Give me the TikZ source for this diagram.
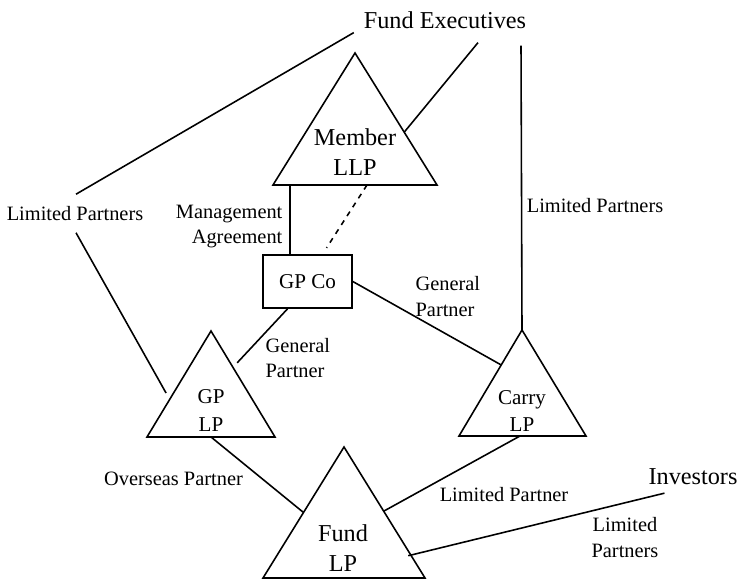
\documentclass[tikz,border=0pt]{standalone}
\usepackage{fontspec}
\setmainfont{Liberation Serif}
\usetikzlibrary{calc}

\begin{document}
\begin{tikzpicture}[x=1cm, y=1cm,
    lbl/.style={font=\fontsize{11.6}{14.5}\selectfont, inner sep=1pt, align=center},
    mid/.style={font=\fontsize{12}{15.4}\selectfont, inner sep=1pt, align=center},
    big/.style={font=\fontsize{13.8}{17}\selectfont, inner sep=1pt, align=center},
    tri/.style={line width=0.9pt, line join=miter},
    link/.style={line width=0.9pt}]

    \useasboundingbox (0,0) rectangle (14.76,11.58);

    % --- Top: Fund Executives and Member LLP ---
    \node[big] (fe) at (8.90,11.18) {Fund Executives};
    \coordinate (mA) at (7.10,10.52);
    \coordinate (mL) at (5.46,7.88);
    \coordinate (mR) at (8.74,7.88);
    \draw[tri] (mA) -- (mL) -- (mR) -- cycle;
    \node[big] (member) at (7.10,8.54) {Member\\LLP};

    % --- Middle: GP Co ---
    \node[draw, line width=0.9pt, minimum width=1.78cm, minimum height=1.06cm, mid] (gpco) at (6.15,5.95) {GP Co};

    % GP LP
    \coordinate (gA) at (4.22,4.96);
    \coordinate (gL) at (2.94,2.84);
    \coordinate (gR) at (5.50,2.84);
    \draw[tri] (gA) -- (gL) -- (gR) -- cycle;
    \node[mid] (gplp) at (4.22,3.37) {GP\\LP};

    % Carry LP
    \coordinate (cA) at (10.44,4.98);
    \coordinate (cL) at (9.18,2.86);
    \coordinate (cR) at (11.72,2.86);
    \draw[tri] (cA) -- (cL) -- (cR) -- cycle;
    \node[mid] (carry) at (10.44,3.36) {Carry\\LP};

    % --- Bottom: Fund LP and Investors ---
    \coordinate (fA) at (6.88,2.64);
    \coordinate (fL) at (5.26,0.02);
    \coordinate (fR) at (8.50,0.02);
    \draw[tri] (fA) -- (fL) -- (fR) -- cycle;
    \node[big] (fund) at (6.86,0.62) {Fund\\LP};
    \node[big] (inv) at (13.86,2.04) {Investors};

    % Labels
    \node[lbl] (lpl) at (1.50,7.30) {Limited Partners};
    \node[lbl, anchor=east, align=right] (mgmt) at (5.69,7.05) {Management\\Agreement};
    \node[lbl] (lpr) at (11.90,7.46) {Limited Partners};
    \node[lbl, anchor=west, align=left] (gpr) at (8.27,5.65) {General\\Partner};
    \node[lbl, anchor=west, align=left] (gpl) at (5.27,4.42) {General\\Partner};
    \node[lbl] (osp) at (3.47,2.00) {Overseas Partner};
    \node[lbl] (lpf) at (10.08,1.68) {Limited Partner};
    \node[lbl] (lpi) at (12.50,0.83) {Limited\\Partners};

    % Connectors from Fund Executives
    \draw[link] ($(fe.south west)+(-0.16,-0.04)$) -- ($(lpl.north)+(0.02,0.21)$);
    \draw[link] ($(fe.south)+(0.66,-0.24)$) -- ($(mA)!0.6!(mR)$);
    \draw[link] ($(fe.south)+(1.52,-0.30)$) -- (cA);
    \draw[link] ($(lpl.south)+(0.02,-0.19)$) -- ($(gA)!0.585!(gL)+(-0.15,0)$);

    % Member LLP to GP Co
    \draw[link] ($(mL)!0.104!(mR)$) coordinate (mb) -- (mb |- gpco.north);
    \draw[link, dashed, shorten >=0.15cm] ($(mL)!0.573!(mR)$) -- ($(gpco.north)+(0.30,0)$);

    % GP Co to the partnerships
    \draw[link] ($(gpco.south west)!0.28!(gpco.south east)$) -- ($(gA)!0.30!(gR)+(0.14,0)$);
    \draw[link] (gpco.east) -- ($(cA)!0.33!(cL)$);

    % Partnerships to Fund LP
    \draw[link] ($(gL)!0.5!(gR)$) -- ($(fA)!0.5!(fL)$);
    \draw[link] ($(cL)!0.48!(cR)$) -- ($(fA)!0.49!(fR)$);
    \draw[link] ($(fA)!0.83!(fR)+(-0.06,0)$) -- ($(inv.south west)+(0.36,-0.12)$);

\end{tikzpicture}
\end{document}
